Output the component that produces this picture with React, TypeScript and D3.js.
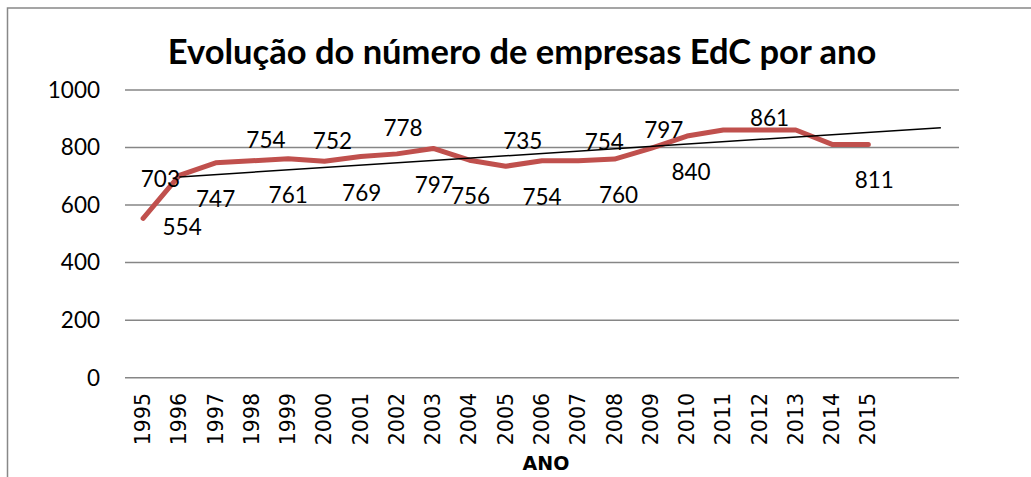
import React from 'react';
import * as d3 from 'd3';

const years = ['1995', '1996', '1997', '1998', '1999', '2000', '2001', '2002', '2003', '2004', '2005',
  '2006', '2007', '2008', '2009', '2010', '2011', '2012', '2013', '2014', '2015'];
const empresas = [554, 703, 747, 754, 761, 752, 769, 778, 797, 756, 735, 754, 754, 760, 797, 840, 861, 861, 861, 811, 811];
// two empty slots after 2015 where the trend line runs on
const slotCount = 23;
const trendIndex = [1, 22];
const trendValues = [698, 869];
const yTicks = [0, 200, 400, 600, 800, 1000];

// which point each data label belongs to, and how far it was dragged (px)
const labelPlace: [number, number, number][] = [
  [1, -19, 4], [0, 39, 9], [2, 0, 36], [3, 14, -21], [4, 0, 36], [5, 8, -20],
  [6, 1, 37], [7, 6, -26], [8, 1, 37], [9, 1, 36], [10, 17, -25], [11, 0, 36],
  [12, 26, -19], [13, 4, 36], [14, 13, -18], [15, 4, 36], [17, 10, -12], [20, 6, 36],
];

const W = 1031, H = 477;
const plot = { left: 125, right: 959, top: 90, bottom: 377.7 };
const numFont = 'Lato, "Open Sans", sans-serif';

export default function App() {
  const x = d3.scalePoint<number>()
    .domain(d3.range(slotCount))
    .range([plot.left, plot.right])
    .padding(0.5);
  const y = d3.scaleLinear().domain([0, 1000]).range([plot.bottom, plot.top]);

  const line = d3.line<number>()
    .x((d, i) => x(i)!)
    .y(d => y(d));

  const trend = d3.line<number>()
    .x((d, i) => x(trendIndex[i])!)
    .y(d => y(d));

  return (
    <svg width={W} height={H} style={{ position: 'absolute', left: 0, top: 0, background: '#fff' }}>
      <rect x={7.5} y={8} width={W + 10} height={H + 10} fill="#fff" stroke="#888" strokeWidth={1.5} />

      <text x={522} y={64} textAnchor="middle" fontFamily={numFont} fontWeight="bold" fontSize={34.5}>
        Evolução do número de empresas EdC por ano
      </text>

      {yTicks.map(t => (
        <g key={t}>
          <line x1={plot.left} x2={plot.right} y1={y(t)} y2={y(t)} stroke="#868686" strokeWidth={1.5} />
          <text x={100} y={y(t)} dy="0.35em" textAnchor="end" fontFamily={numFont} fontSize={22.5}>{t}</text>
        </g>
      ))}

      {years.map((yr, i) => (
        <text key={yr} transform={`translate(${x(i)! + 7},393) rotate(-90)`} textAnchor="end"
          fontFamily="'DejaVu Sans', sans-serif" fontSize={20.5}>{yr}</text>
      ))}

      <text x={546} y={470} textAnchor="middle" fontFamily="'DejaVu Sans', sans-serif" fontWeight="bold" fontSize={19}>ANO</text>

      <path d={line(empresas)!} fill="none" stroke="#C0504D" strokeWidth={5} strokeLinejoin="round" strokeLinecap="round" />
      <path d={trend(trendValues)!} fill="none" stroke="#000" strokeWidth={1.5} />

      {labelPlace.map(([i, dx, dy], k) => (
        <text key={k} x={x(i)! + dx} y={y(empresas[i]) + dy} dy="0.35em" textAnchor="middle"
          fontFamily={numFont} fontSize={22.5}>{empresas[i]}</text>
      ))}
    </svg>
  );
}
